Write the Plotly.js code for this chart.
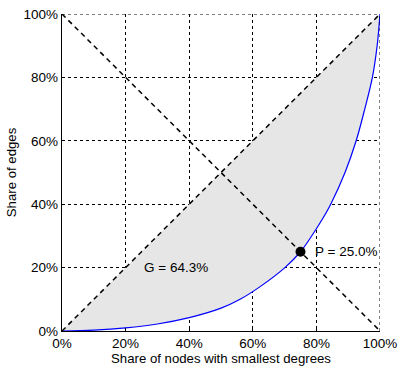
<!DOCTYPE html>
<html>
<head>
<meta charset="utf-8">
<script src="https://cdn.plot.ly/plotly-3.0.1.min.js"></script>
<style>html,body{margin:0;padding:0;background:#fff;}#chart{width:414px;height:370px;}</style>
</head>
<body>
<div id="chart"></div>
<script>
// Lorenz curve: share of nodes (x, %) vs share of edges (y, %)
var nodeShare = [0, 10, 20, 30, 40, 50, 56, 62.3, 70.1, 75, 78.4, 81.7, 84.5, 89, 92.5, 95.2, 97.6, 99.1, 100];
var edgeShare = [0, 0.3, 1.0, 2.2, 4.2, 7.2, 10, 14, 20, 25, 29.8, 35, 40, 50, 60, 70, 80, 90, 100];
var equalityX = [0, 100];
var equalityY = [0, 100];
var antiX = [0, 100];
var antiY = [100, 0];
var pointX = [75];
var pointY = [25];
var giniLabel = "G = 64.3%";
var pointLabel = "P = 25.0%";
var tickVals = [0, 20, 40, 60, 80, 100];
var tickText = ["0%", "20%", "40%", "60%", "80%", "100%"];

var font = {family: "Liberation Sans, Arial, sans-serif", size: 13.5, color: "#000"};
var titleFont = {family: "Liberation Sans, Arial, sans-serif", size: 13.2, color: "#000"};

var traces = [
  {x: equalityX, y: equalityY, mode: "lines", line: {width: 0, color: "rgba(0,0,0,0)"}, hoverinfo: "skip", showlegend: false},
  {x: nodeShare, y: edgeShare, mode: "lines", line: {color: "#0000ff", width: 1.2, shape: "spline", smoothing: 1},
   fill: "tonexty", fillcolor: "#e6e6e6", showlegend: false},
  {x: equalityX, y: equalityY, mode: "lines", line: {color: "#000", width: 1.5, dash: "5px,4px"}, showlegend: false},
  {x: antiX, y: antiY, mode: "lines", line: {color: "#000", width: 1.5, dash: "5px,4px"}, showlegend: false},
  {x: pointX, y: pointY, mode: "markers", marker: {color: "#000", size: 10}, cliponaxis: false, showlegend: false}
];

var axisCommon = {
  range: [0, 100], tickvals: tickVals, ticktext: tickText,
  showgrid: true, gridcolor: "#000", gridwidth: 1, griddash: "dot",
  showline: true, linecolor: "#000", linewidth: 1.2, zeroline: false,
  ticks: "inside", ticklen: 3, tickcolor: "#000",
  tickfont: font, fixedrange: true
};

var layout = {
  width: 414, height: 370,
  margin: {l: 62, r: 34, t: 14, b: 39},
  paper_bgcolor: "#fff", plot_bgcolor: "#fff",
  font: font,
  xaxis: Object.assign({}, axisCommon, {title: {text: "Share of nodes with smallest degrees", font: titleFont, standoff: 2}}),
  yaxis: Object.assign({}, axisCommon, {title: {text: "Share of edges", font: titleFont, standoff: 4}}),
  shapes: [
    {type: "line", xref: "x", yref: "y", x0: 0, y0: 100, x1: 100, y1: 100, line: {color: "#000", width: 1, dash: "dot"}},
    {type: "line", xref: "x", yref: "y", x0: 100, y0: 0, x1: 100, y1: 100, line: {color: "#000", width: 1, dash: "dot"}}
  ],
  annotations: [
    {x: 25, y: 19.9, xref: "x", yref: "y", text: giniLabel, showarrow: false, xanchor: "left", yanchor: "middle", font: font},
    {x: 79, y: 25, xref: "x", yref: "y", text: pointLabel, showarrow: false, xanchor: "left", yanchor: "middle", font: font}
  ],
  showlegend: false
};

Plotly.newPlot("chart", traces, layout, {displayModeBar: false, staticPlot: true});
</script>
</body>
</html>
